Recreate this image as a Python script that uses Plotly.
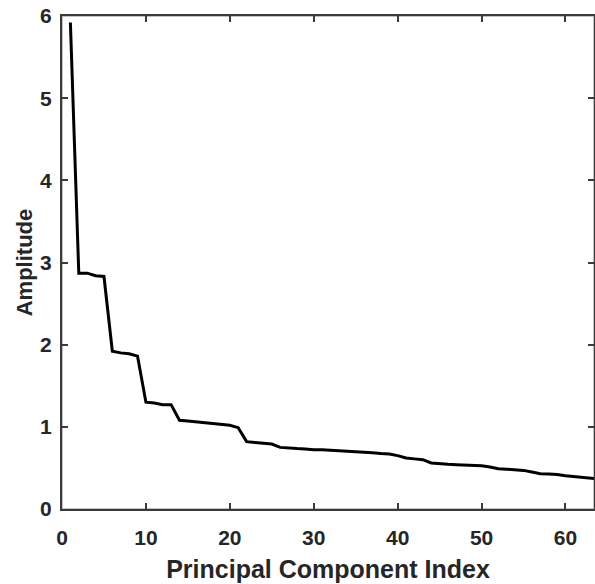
import plotly.graph_objects as go

component_index = list(range(1, 65))
amplitude = [
    5.92, 2.87, 2.87, 2.84, 2.83, 1.92, 1.90, 1.89, 1.86, 1.30,
    1.29, 1.27, 1.27, 1.08, 1.07, 1.06, 1.05, 1.04, 1.03, 1.02,
    0.99, 0.82, 0.81, 0.80, 0.79, 0.75, 0.74, 0.735, 0.73, 0.72,
    0.72, 0.715, 0.71, 0.705, 0.70, 0.695, 0.685, 0.675, 0.67, 0.65,
    0.62, 0.61, 0.60, 0.56, 0.55, 0.545, 0.54, 0.535, 0.53, 0.525,
    0.51, 0.49, 0.485, 0.475, 0.47, 0.45, 0.43, 0.425, 0.42, 0.405,
    0.395, 0.385, 0.375, 0.365,
]
x_ticks = [0, 10, 20, 30, 40, 50, 60]
y_ticks = [0, 1, 2, 3, 4, 5, 6]

font_family = "Liberation Sans, Arial, sans-serif"
axis_color = "#262626"
frame_color = "#3a3a3a"

fig = go.Figure()
fig.add_trace(go.Scatter(
    x=component_index, y=amplitude, mode="lines",
    line=dict(color="black", width=3),
))

axis_common = dict(
    showline=True, linecolor=frame_color, linewidth=2, mirror="ticks",
    ticks="inside", ticklen=6, tickcolor=frame_color, tickwidth=2,
    showgrid=False, zeroline=False, automargin=False,
    tickfont=dict(family=font_family, size=21, color=axis_color),
)

fig.update_layout(
    template="simple_white",
    width=595, height=584,
    margin=dict(l=62, r=1, t=16, b=75),
    paper_bgcolor="white", plot_bgcolor="white",
    showlegend=False,
    xaxis=dict(
        range=[0, 63.4], tickvals=x_ticks,
        ticktext=[f"<b>{v}</b>" for v in x_ticks], ticklabelstandoff=9,
        title=dict(text="<b>Principal Component Index</b>", standoff=12,
                   font=dict(family=font_family, size=25, color=axis_color)),
        **axis_common,
    ),
    yaxis=dict(
        range=[0, 6], tickvals=y_ticks,
        ticktext=[f"<b>{v}</b>" for v in y_ticks], ticklabelstandoff=4,
        title=dict(text="<b>Amplitude</b>", standoff=1,
                   font=dict(family=font_family, size=22, color=axis_color)),
        **axis_common,
    ),
)
fig.add_shape(type="rect", xref="paper", yref="paper", x0=0, y0=0, x1=1, y1=1,
              line=dict(color=frame_color, width=2), fillcolor="rgba(0,0,0,0)",
              layer="above")

fig.write_html(
    "out.html",
    config={"displayModeBar": False},
    post_script="document.body.style.margin='0';document.body.style.overflow='hidden';",
)
